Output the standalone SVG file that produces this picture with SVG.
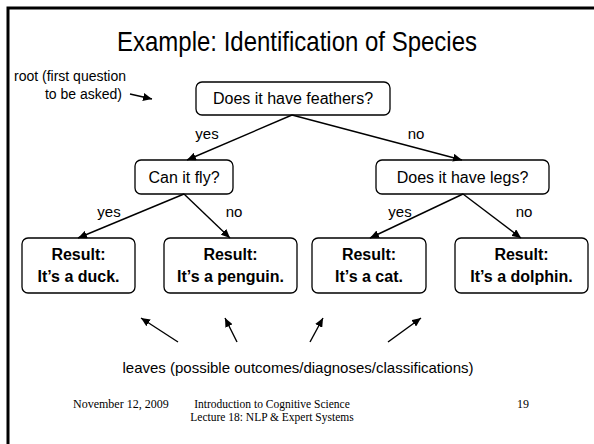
<svg xmlns="http://www.w3.org/2000/svg" width="594" height="444" viewBox="0 0 594 444">
<style>
.box{fill:#fff;stroke:#000;stroke-width:1.3}
.t{font-family:"Liberation Sans",Arial,sans-serif;font-size:16px;fill:#000;text-anchor:middle}
.b{font-weight:bold}
.lbl{font-family:"Liberation Sans",Arial,sans-serif;font-size:15px;fill:#000;text-anchor:middle}
.ft{font-family:"Liberation Serif","Times New Roman",serif;font-size:12px;fill:#000}
.ln{stroke:#000;stroke-width:1.4;fill:none;marker-end:url(#ah)}
</style>
<defs>
<marker id="ah" markerUnits="userSpaceOnUse" markerWidth="10" markerHeight="8" refX="9" refY="4" orient="auto">
<path d="M0,0 L9,4 L0,8 Z" fill="#000"/>
</marker>
</defs>
<rect x="0" y="0" width="594" height="444" fill="#fff"/>
<path d="M8,444 V8 H594" fill="none" stroke="#000" stroke-width="3"/>
<text x="297" y="51" class="t" style="font-size:28px" textLength="360" lengthAdjust="spacingAndGlyphs">Example: Identification of Species</text>
<g id="root-note">
<text x="14" y="81" class="lbl" style="text-anchor:start;font-size:14px">root (first question</text>
<text x="122" y="99" class="lbl" style="text-anchor:end;font-size:14px">to be asked)</text>
</g>
<g id="n-root"><rect class="box" x="196" y="82" width="194" height="33" rx="6"/><text x="293" y="104" class="t">Does it have feathers?</text></g>
<g id="n-fly"><rect class="box" x="135" y="160" width="98" height="34" rx="6"/><text x="184" y="183" class="t">Can it fly?</text></g>
<g id="n-legs"><rect class="box" x="376" y="160" width="173" height="34" rx="6"/><text x="462.5" y="183" class="t">Does it have legs?</text></g>
<g id="n-duck"><rect class="box" x="22" y="238" width="113" height="55" rx="6"/><text x="78.5" y="260" class="t b">Result:</text><text x="78.5" y="282" class="t b">It’s a duck.</text></g>
<g id="n-penguin"><rect class="box" x="164" y="238" width="133" height="55" rx="6"/><text x="230.5" y="260" class="t b">Result:</text><text x="230.5" y="282" class="t b">It’s a penguin.</text></g>
<g id="n-cat"><rect class="box" x="312" y="238" width="114" height="55" rx="6"/><text x="369" y="260" class="t b">Result:</text><text x="369" y="282" class="t b">It’s a cat.</text></g>
<g id="n-dolphin"><rect class="box" x="455" y="238" width="133" height="55" rx="6"/><text x="521.5" y="260" class="t b">Result:</text><text x="521.5" y="282" class="t b">It’s a dolphin.</text></g>
<g id="connectors">
<line class="ln" x1="130" y1="94" x2="152" y2="99"/>
<line class="ln" x1="292" y1="115" x2="187" y2="160"/>
<line class="ln" x1="292" y1="115" x2="462" y2="160"/>
<line class="ln" x1="184" y1="194" x2="78" y2="238"/>
<line class="ln" x1="184" y1="194" x2="230" y2="238"/>
<line class="ln" x1="463" y1="194" x2="370" y2="238"/>
<line class="ln" x1="463" y1="194" x2="521" y2="238"/>
<line class="ln" x1="178" y1="342" x2="141" y2="318"/>
<line class="ln" x1="237" y1="342" x2="225" y2="318"/>
<line class="ln" x1="310" y1="342" x2="323" y2="318"/>
<line class="ln" x1="388" y1="342" x2="421" y2="318"/>
<text x="207" y="139" class="lbl">yes</text>
<text x="416" y="139" class="lbl">no</text>
<text x="109" y="217" class="lbl">yes</text>
<text x="234" y="217" class="lbl">no</text>
<text x="400" y="217" class="lbl">yes</text>
<text x="524" y="217" class="lbl">no</text>
</g>
<text x="298" y="373" class="t" style="font-size:15px">leaves (possible outcomes/diagnoses/classifications)</text>
<text x="73" y="408" class="ft">November 12, 2009</text>
<text x="272" y="408" class="ft" style="font-size:11.5px" text-anchor="middle">Introduction to Cognitive Science</text>
<text x="272" y="421" class="ft" style="font-size:11.5px" text-anchor="middle">Lecture 18: NLP &amp; Expert Systems</text>
<text x="517" y="408" class="ft">19</text>
</svg>
